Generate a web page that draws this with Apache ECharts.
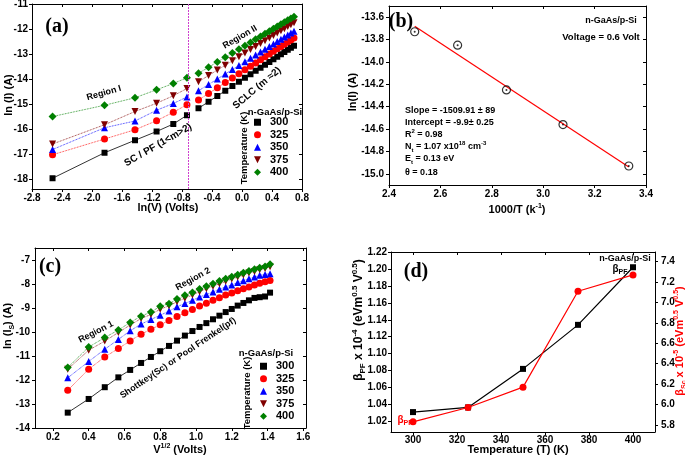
<!DOCTYPE html>
<html><head><meta charset="utf-8">
<script src="https://cdn.jsdelivr.net/npm/echarts@6/dist/echarts.min.js"></script>
<style>html,body{margin:0;padding:0;background:#fff}#c{width:685px;height:457px}</style>
</head><body><div id="c"></div>
<script>
// ================= DATA =================
const temps = ['300', '325', '350', '375', '400'];

// ---- panel (a): ln(I) vs ln(V) ----
const aXRegion1 = [-2.526, -1.833, -1.427, -1.139, -0.916, -0.734];
const aXRegion2 = [-0.580, -0.446, -0.329, -0.223, -0.128, -0.041, 0.039, 0.113, 0.182, 0.247, 0.307, 0.365, 0.419, 0.470, 0.519, 0.565, 0.610, 0.652, 0.693];
const a300R1 = [-17.97, -16.95, -16.45, -16.10, -15.80, -15.45];
const a325R1 = [-17.03, -16.40, -16.03, -15.67, -15.33, -15.03];
const a350R1 = [-16.82, -15.95, -15.68, -15.25, -14.98, -14.72];
const a375R1 = [-16.60, -15.83, -15.30, -14.97, -14.67, -14.38];
const a400R1 = [-15.50, -15.05, -14.75, -14.43, -14.18, -13.95];
const a300R2 = [-15.17, -14.91, -14.68, -14.47, -14.28, -14.11, -13.95, -13.81, -13.67, -13.55, -13.43, -13.32, -13.21, -13.11, -13.01, -12.92, -12.83, -12.75, -12.67];
const a325R2 = [-14.84, -14.58, -14.35, -14.14, -13.96, -13.79, -13.63, -13.49, -13.36, -13.23, -13.11, -13.00, -12.89, -12.79, -12.70, -12.61, -12.52, -12.44, -12.36];
const a350R2 = [-14.47, -14.22, -14.00, -13.80, -13.62, -13.46, -13.31, -13.17, -13.04, -12.92, -12.81, -12.70, -12.60, -12.50, -12.41, -12.32, -12.24, -12.16, -12.09];
const a375R2 = [-14.11, -13.86, -13.64, -13.45, -13.27, -13.11, -12.96, -12.82, -12.70, -12.58, -12.47, -12.36, -12.26, -12.16, -12.07, -11.99, -11.90, -11.83, -11.75];
const a400R2 = [-13.77, -13.53, -13.32, -13.13, -12.96, -12.81, -12.67, -12.54, -12.41, -12.30, -12.19, -12.09, -11.99, -11.90, -11.81, -11.73, -11.65, -11.58, -11.51];
const aBoundaryX = -0.72;
const aXTicks = [-2.8, -2.4, -2.0, -1.6, -1.2, -0.8, -0.4, 0.0, 0.4, 0.8];
const aYTicks = [-18, -17, -16, -15, -14, -13, -12, -11];

// ---- panel (b): ln(I) vs 1000/T ----
const bX = [2.500, 2.667, 2.857, 3.077, 3.333];
const bY = [-13.73, -13.85, -14.25, -14.56, -14.93];
const bFitX = [2.500, 3.333];
const bFitY = [-13.68, -14.94];
const bXTicks = [2.4, 2.6, 2.8, 3.0, 3.2, 3.4];
const bYTicks = [-15.0, -14.8, -14.6, -14.4, -14.2, -14.0, -13.8, -13.6];

// ---- panel (c): ln(Is) vs V^1/2 ----
const cX = [0.283, 0.400, 0.490, 0.566, 0.632, 0.693, 0.748, 0.800, 0.849, 0.894, 0.938, 0.980, 1.020, 1.058, 1.095, 1.131, 1.166, 1.200, 1.233, 1.265, 1.296, 1.327, 1.356, 1.386, 1.414];
const c300 = [-13.36, -12.79, -12.30, -11.89, -11.58, -11.29, -11.04, -10.80, -10.58, -10.36, -10.15, -9.96, -9.79, -9.63, -9.47, -9.32, -9.17, -9.04, -8.90, -8.79, -8.68, -8.58, -8.55, -8.52, -8.36];
const c325 = [-12.43, -11.55, -11.04, -10.69, -10.37, -10.09, -9.89, -9.70, -9.52, -9.35, -9.20, -9.06, -8.92, -8.80, -8.68, -8.57, -8.46, -8.37, -8.28, -8.20, -8.12, -8.04, -7.97, -7.91, -7.85];
const c350 = [-11.91, -11.23, -10.72, -10.31, -9.95, -9.67, -9.48, -9.30, -9.13, -8.95, -8.81, -8.68, -8.54, -8.44, -8.33, -8.22, -8.12, -8.04, -7.94, -7.86, -7.78, -7.71, -7.64, -7.60, -7.57];
const c375 = [-11.55, -10.76, -10.38, -10.02, -9.71, -9.44, -9.27, -9.05, -8.91, -8.74, -8.59, -8.46, -8.32, -8.20, -8.09, -7.99, -7.89, -7.79, -7.71, -7.63, -7.54, -7.48, -7.41, -7.35, -7.28];
const c400 = [-11.48, -10.63, -10.23, -9.92, -9.60, -9.34, -9.17, -8.93, -8.82, -8.63, -8.47, -8.35, -8.21, -8.09, -7.99, -7.88, -7.78, -7.70, -7.61, -7.53, -7.46, -7.39, -7.32, -7.27, -7.18];
const cXTicks = [0.2, 0.4, 0.6, 0.8, 1.0, 1.2, 1.4, 1.6];
const cYTicks = [-14, -13, -12, -11, -10, -9, -8, -7];

// ---- panel (d): beta vs temperature ----
const dT = [300, 325, 350, 375, 400];
const dBetaPF = [1.031, 1.0365, 1.082, 1.134, 1.202];
const dBetaSc = [5.83, 5.97, 6.17, 7.11, 7.27];
const dXTicks = [300, 320, 340, 360, 380, 400];
const dYLeftTicks = [1.02, 1.04, 1.06, 1.08, 1.10, 1.12, 1.14, 1.16, 1.18, 1.20, 1.22];
const dYRightTicks = [5.8, 6.0, 6.2, 6.4, 6.6, 6.8, 7.0, 7.2, 7.4];

// ================= STYLE / BUILD =================
const FS = "'Liberation Sans Narrow','Liberation Sans',Arial,sans-serif";
const SERIF = "'Liberation Serif','Times New Roman',serif";
const lbl = { fontFamily: FS, fontWeight: 'bold', fontSize: 10, color: '#000' };
const tStyle = [
  { c: '#000000', s: 'rect', z: 6, r: 0 },
  { c: '#ff0000', s: 'circle', z: 7, r: 0 },
  { c: '#0000ff', s: 'triangle', z: 7, r: 0 },
  { c: '#800000', s: 'triangle', z: 7, r: 180 },
  { c: '#008000', s: 'diamond', z: 8, r: 0 }
];
const legendIcons = ['rect', 'circle', 'triangle', 'path://M0,0L10,0L5,10Z', 'diamond'];
const pts = (xs, ys) => xs.map((x, i) => [x, ys[i]]);

function mainX(g, min, max, ticks, fmt, margin) {
  return { type: 'value', gridIndex: g, min, max, position: 'bottom',
    axisLine: { show: true, onZero: false, lineStyle: { color: '#000', width: 1 } },
    axisTick: { show: true, inside: false, length: 3, customValues: ticks, lineStyle: { color: '#000' } },
    axisLabel: Object.assign({ customValues: ticks, formatter: fmt, margin, hideOverlap: false }, lbl),
    splitLine: { show: false } };
}
function mirrorX(g, min, max, ticks) {
  return { type: 'value', gridIndex: g, min, max, position: 'top',
    axisLine: { show: true, onZero: false, lineStyle: { color: '#000', width: 1 } },
    axisTick: { show: true, inside: true, length: 3, customValues: ticks, lineStyle: { color: '#000' } },
    axisLabel: { show: false }, splitLine: { show: false } };
}
function mainY(g, min, max, ticks, fmt, margin, pos) {
  return { type: 'value', gridIndex: g, min, max, position: pos || 'left',
    axisLine: { show: true, onZero: false, lineStyle: { color: '#000', width: 1 } },
    axisTick: { show: true, inside: false, length: 3, customValues: ticks, lineStyle: { color: '#000' } },
    axisLabel: Object.assign({ customValues: ticks, formatter: fmt, margin, hideOverlap: false }, lbl),
    splitLine: { show: false } };
}
function mirrorY(g, min, max, ticks) {
  return { type: 'value', gridIndex: g, min, max, position: 'right',
    axisLine: { show: true, onZero: false, lineStyle: { color: '#000', width: 1 } },
    axisTick: { show: true, inside: true, length: 3, customValues: ticks, lineStyle: { color: '#000' } },
    axisLabel: { show: false }, splitLine: { show: false } };
}

const f1 = v => v.toFixed(1), f0 = v => String(v), f2 = v => v.toFixed(2);
const xAxis = [
  mainX(0, -2.8, 0.8, aXTicks, f1, 4), mirrorX(0, -2.8, 0.8, aXTicks),
  mainX(1, 2.4, 3.4, bXTicks, f1, 4), mirrorX(1, 2.4, 3.4, bXTicks),
  mainX(2, 0.1, 1.615, cXTicks, f1, 4), mirrorX(2, 0.1, 1.615, cXTicks),
  mainX(3, 290, 410, dXTicks, f0, 3), mirrorX(3, 290, 410, dXTicks)
];
const yAxis = [
  mainY(0, -18.4, -11, aYTicks, f0, 4), mirrorY(0, -18.4, -11, aYTicks),
  mainY(1, -15.1, -13.5, bYTicks, f1, 5), mirrorY(1, -15.1, -13.5, bYTicks),
  mainY(2, -14, -6.5, cYTicks, f0, 5), mirrorY(2, -14, -6.5, cYTicks),
  mainY(3, 1.0075, 1.22, dYLeftTicks, f2, 4), mainY(3, 5.73, 7.495, dYRightTicks, f1, 6, 'right')
];

function lineSer(name, xi, yi, data, st, ltype) {
  return { type: 'line', name, xAxisIndex: xi, yAxisIndex: yi, data,
    symbol: st.s, symbolSize: st.z, symbolRotate: st.r, showSymbol: true,
    itemStyle: { color: st.c }, lineStyle: { color: st.c, width: 0.8, type: ltype },
    emphasis: { disabled: true }, silent: true, z: 3 };
}

const series = [];
const aR1 = [a300R1, a325R1, a350R1, a375R1, a400R1];
const aR2 = [a300R2, a325R2, a350R2, a375R2, a400R2];
const cAll = [c300, c325, c350, c375, c400];
temps.forEach((t, i) => {
  const lt = i === 0 ? 'solid' : 'dotted';
  series.push(lineSer(t, 0, 0, pts(aXRegion1, aR1[i]), tStyle[i], lt));
  series.push(lineSer(t, 0, 0, pts(aXRegion2, aR2[i]), tStyle[i], lt));
});
series[0].markLine = { silent: true, symbol: ['none', 'none'], label: { show: false },
  lineStyle: { color: '#d040d0', width: 1, type: [2, 1] }, data: [{ xAxis: aBoundaryX }] };
temps.forEach((t, i) => {
  series.push(lineSer(t, 4, 4, pts(cX, cAll[i]), tStyle[i], i === 0 ? 'solid' : 'dotted'));
});
// (b)
series.push({ type: 'line', name: 'fit', xAxisIndex: 2, yAxisIndex: 2, data: pts(bFitX, bFitY),
  symbol: 'none', lineStyle: { color: '#ff0000', width: 1.2 }, silent: true, z: 2 });
series.push({ type: 'scatter', name: 'bdata', xAxisIndex: 2, yAxisIndex: 2, data: pts(bX, bY),
  symbol: 'circle', symbolSize: 8, itemStyle: { color: 'rgba(0,0,0,0)', borderColor: '#000', borderWidth: 1.2 }, silent: true, z: 3 });
series.push({ type: 'scatter', name: 'bdot', xAxisIndex: 2, yAxisIndex: 2, data: pts(bX, bY),
  symbol: 'circle', symbolSize: 2, itemStyle: { color: '#000' }, silent: true, z: 4 });
// (d)
series.push({ type: 'line', name: 'bPF', xAxisIndex: 6, yAxisIndex: 6, data: pts(dT, dBetaPF),
  symbol: 'rect', symbolSize: 6, itemStyle: { color: '#000' }, lineStyle: { color: '#000', width: 1.2 }, silent: true, z: 3 });
series.push({ type: 'line', name: 'bSc', xAxisIndex: 6, yAxisIndex: 7, data: pts(dT, dBetaSc),
  symbol: 'circle', symbolSize: 7, itemStyle: { color: '#ff0000' }, lineStyle: { color: '#ff0000', width: 1.2 }, silent: true, z: 4 });

function legendAt(left, top) {
  return { orient: 'vertical', left, top, padding: 0, itemWidth: 7, itemHeight: 7, itemGap: 0,
    selectedMode: false, data: temps.map((t, i) => ({ name: t, icon: legendIcons[i] })),
    textStyle: { fontFamily: FS, fontWeight: 'bold', fontSize: 11, color: '#000', lineHeight: 12.5, padding: [0, 0, 0, 4] } };
}

const rich = (size, color) => ({
  p: { fontFamily: FS, fontWeight: 'bold', fontSize: Math.round(size * 0.65), fill: color, verticalAlign: 'top', lineHeight: size + 4 },
  s: { fontFamily: FS, fontWeight: 'bold', fontSize: Math.round(size * 0.65), fill: color, verticalAlign: 'bottom', lineHeight: size + 4 }
});
function T(x, y, text, o) {
  o = o || {};
  const size = o.size || 10, color = o.color || '#000', al = o.align || 'center';
  return { type: 'text', x, y, rotation: (o.rot || 0) * Math.PI / 180, z: 100, silent: true,
    style: { text, font: 'bold ' + size + 'px ' + (o.family || FS), fill: color, lineHeight: size + 4,
      textAlign: al, align: al, textVerticalAlign: 'middle', verticalAlign: 'middle', rich: rich(size, color) } };
}

const graphics = [
  // (a)
  T(57, 27, '(a)', { size: 20, family: SERIF }),
  T(104, 93, 'Region I', { size: 9, rot: 16 }),
  T(240, 37, 'Region II', { size: 9, rot: 30 }),
  T(158, 145, 'SC / PF (1<m>2)', { size: 10, rot: 30 }),
  T(257, 88, 'SCLC (m \u22482)', { size: 10, rot: 40 }),
  T(275, 112, 'n-GaAs/p-Si', { size: 9.5 }),
  T(244, 148, 'Temperature (K)', { size: 9.5, rot: 90 }),
  T(9, 95, 'ln (I) (A)', { size: 11, rot: 90 }),
  T(168, 208, 'ln(V) (Volts)', { size: 11 }),
  // (b)
  T(401, 22, '(b)', { size: 20, family: SERIF }),
  T(611, 21, 'n-GaAs/p-Si', { size: 9 }),
  T(601, 37, 'Voltage = 0.6 Volt', { size: 9.5 }),
  T(405, 111, 'Slope = -1509.91 \u00b1 89', { size: 9, align: 'left' }),
  T(405, 123, 'Intercept = -9.9\u00b1 0.25', { size: 9, align: 'left' }),
  T(405, 135, 'R{p|2} = 0.98', { size: 9, align: 'left' }),
  T(405, 147, 'N{s|t} = 1.07 x10{p|18} cm{p|-3}', { size: 9, align: 'left' }),
  T(405, 159, 'E{s|t} = 0.13 eV', { size: 9, align: 'left' }),
  T(405, 173, '\u03b8 = 0.18', { size: 9, align: 'left' }),
  T(353, 92, 'ln(I) (A)', { size: 11, rot: 90 }),
  T(517, 210, '1000/T (k{p|-1})', { size: 11 }),
  // (c)
  T(50, 267, '(c)', { size: 20, family: SERIF }),
  T(96, 332, 'Region 1', { size: 9, rot: 27 }),
  T(193, 279, 'Region 2', { size: 9, rot: 29 }),
  T(178, 358, 'Shottkey(Sc) or Pool Frenkel(pf)', { size: 9, rot: 34 }),
  T(266, 353, 'n-GaAs/p-Si', { size: 9.5 }),
  T(247, 393, 'Temperature (K)', { size: 9.5, rot: 90 }),
  T(8, 326, 'ln (I{s|S}) (A)', { size: 11, rot: 90 }),
  T(180, 450, 'V{p|1/2} (Volts)', { size: 11 }),
  // (d)
  T(416, 272, '(d)', { size: 20, family: SERIF }),
  T(625, 259, 'n-GaAs/p-Si', { size: 9 }),
  T(620, 269, '\u03b2{s|PF}', { size: 10 }),
  T(405, 420, '\u03b2{s|PF}', { size: 10, color: '#ff0000' }),
  T(359, 320, '\u03b2{s|PF} x 10{p|-4} (eVm{p|0.5} V{p|0.5})', { size: 12, rot: 90 }),
  T(680, 341, '\u03b2{s|Sc} x 10{p|-5} (eVm{p|0.5} V{p|0.5})', { size: 11, rot: 90, color: '#ff0000' }),
  T(518, 450, 'Temperature (T) (K)', { size: 11 })
];

const option = {
  animation: false,
  backgroundColor: '#ffffff',
  grid: [
    { left: 32, top: 4, width: 270, height: 185, containLabel: false, outerBoundsMode: 'none' },
    { left: 389, top: 6, width: 257, height: 179, containLabel: false, outerBoundsMode: 'none' },
    { left: 35, top: 248, width: 271, height: 180, containLabel: false, outerBoundsMode: 'none' },
    { left: 391, top: 252, width: 264, height: 180, containLabel: false, outerBoundsMode: 'none' }
  ],
  xAxis, yAxis,
  legend: [legendAt(254, 116), legendAt(260, 360)],
  series,
  graphic: { elements: graphics }
};
const chart = echarts.init(document.getElementById('c'), null, { renderer: 'canvas' });
chart.setOption(option);
</script>
</body></html>
